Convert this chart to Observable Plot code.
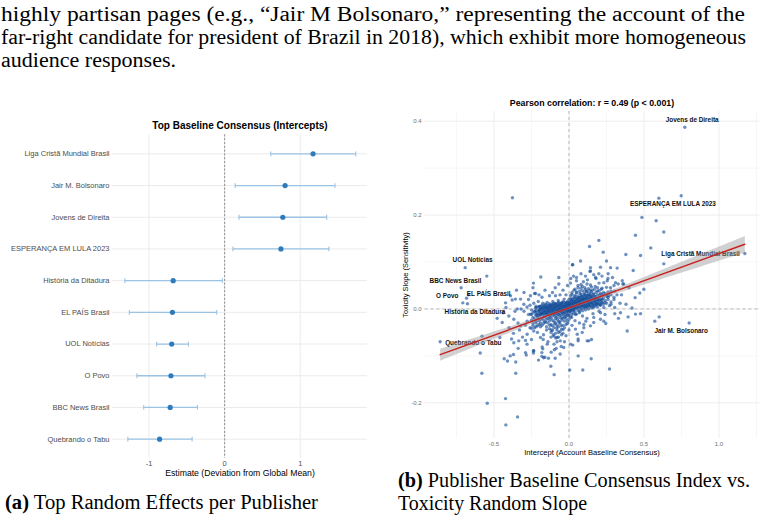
<!DOCTYPE html>
<html><head><meta charset="utf-8">
<script src="https://cdn.jsdelivr.net/npm/d3@7"></script>
<script src="https://cdn.jsdelivr.net/npm/@observablehq/plot@0.6"></script>
<style>
html,body{margin:0;padding:0;background:#fff}
body{width:766px;height:520px;overflow:hidden;position:relative}
.abs{position:absolute}
</style></head><body>
<div id="left" class="abs" style="left:0;top:128px"></div>
<div id="right" class="abs" style="left:390px;top:96px"></div>
<svg id="txt" width="766" height="520" style="position:absolute;left:0;top:0;z-index:2;pointer-events:none">
<g font-family="'Liberation Serif', 'Times New Roman', serif" font-size="20" fill="#000">
<text x="1" y="21" textLength="744" lengthAdjust="spacingAndGlyphs">highly partisan pages (e.g., “Jair M Bolsonaro,” representing the account of the</text>
<text x="1" y="44" textLength="745" lengthAdjust="spacingAndGlyphs">far-right candidate for president of Brazil in 2018), which exhibit more homogeneous</text>
<text x="1" y="67" textLength="175" lengthAdjust="spacingAndGlyphs">audience responses.</text>
<text x="5" y="509" textLength="313" lengthAdjust="spacingAndGlyphs"><tspan font-weight="bold">(a)</tspan> Top Random Effects per Publisher</text>
<text x="398" y="487" textLength="352" lengthAdjust="spacingAndGlyphs"><tspan font-weight="bold">(b)</tspan> Publisher Baseline Consensus Index vs.</text>
<text x="398" y="510" textLength="189" lengthAdjust="spacingAndGlyphs">Toxicity Random Slope</text>
</g>
<g font-family="'Liberation Sans', Arial, sans-serif" fill="#000" text-anchor="middle" dominant-baseline="central">
<text x="240" y="125" font-size="10" font-weight="bold">Top Baseline Consensus (Intercepts)</text>
<text x="240" y="473" font-size="8.7">Estimate (Deviation from Global Mean)</text>
<text x="592" y="103" font-size="8.8" font-weight="bold">Pearson correlation: r = 0.49 (p &lt; 0.001)</text>
<text x="592" y="452.5" font-size="7.6">Intercept (Account Baseline Consensus)</text>
<text x="0" y="0" font-size="7.4" transform="translate(405,275) rotate(-90)">Toxicity Slope (Sensitivity)</text>
</g>
</svg>
<script>
// ---------- (a) forest plot data ----------
const publishers = ["Liga Cristã Mundial Brasil","Jair M. Bolsonaro","Jovens de Direita","ESPERANÇA EM LULA 2023","História da Ditadura","EL PAÍS Brasil","UOL Notícias","O Povo","BBC News Brasil","Quebrando o Tabu"];
const estimates = [1.17, 0.80, 0.77, 0.745, -0.68, -0.69, -0.70, -0.71, -0.72, -0.86];
const ciLow  = [0.61, 0.14, 0.19, 0.11, -1.32, -1.26, -0.90, -1.16, -1.07, -1.28];
const ciHigh = [1.735, 1.46, 1.35, 1.38, -0.03, -0.105, -0.48, -0.26, -0.36, -0.43];
const forestTicks = [-1, 0, 1];

// ---------- (b) scatter data ----------
const labeledNames = ["Jovens de Direita","ESPERANÇA EM LULA 2023","Liga Cristã Mundial Brasil","Jair M. Bolsonaro","UOL Notícias","BBC News Brasil","EL PAÍS Brasil","O Povo","História da Ditadura","Quebrando o Tabu"];
const labeledIntercept = [0.772, 0.748, 1.172, 0.801, -0.692, -0.719, -0.670, -0.708, -0.677, -0.859];
const labeledSlope = [0.387, 0.241, 0.118, -0.030, 0.088, 0.045, 0.030, 0.013, 0.011, -0.070];
const labelAnchorX = [0.821, 0.693, 0.877, 0.748, -0.643, -0.757, -0.535, -0.812, -0.627, -0.638];
const labelAnchorY = [0.4026, 0.2244, 0.117, -0.0464, 0.104, 0.0598, 0.0317, 0.0287, -0.006, -0.0719];

const otherPublishers = [
[-0.377,0.237],[0.137,0.133],[0.599,0.236],[0.486,0.195],[0.581,0.188],[0.632,0.164],[0.443,0.157],[0.199,0.146],[0.545,0.130],
[0.228,0.121],[0.379,0.116],[0.477,0.114],[0.632,0.096],[0.023,0.094],[0.077,0.102],[0.143,0.088],[0.21,0.089],[0.277,0.088],
[0.321,0.087],[0.428,0.082],[0.499,0.042],[0.472,0.034],[0.441,0.024],[0.477,-0.010],[0.443,-0.011],[0.394,-0.017],[0.572,-0.026],
[0.601,-0.017],[0.388,-0.047],[0.245,-0.031],[0.21,-0.022],[0.165,-0.029],[0.112,-0.026],[0.088,-0.050],[0.061,-0.064],[0.121,-0.068],
[0.15,-0.065],[0.043,-0.043],[0.01,-0.075],[0.305,-0.010],[0.31,0.056],[0.355,0.060],[0.365,0.053],[0.277,0.045],[0.255,0.060],
[0.177,0.067],[0.165,0.073],[0.199,0.075],[0.232,0.056],[0.221,0.031],[0.265,0.028],[0.21,0.017],[0.232,0.003],[0.305,0.003],
[0.21,-0.008],[0.165,-0.018],[0.143,-0.036],[0.012,0.065],[0.05,0.067],[0.25,0.102],[0.143,0.081],[0.29,0.067],[0.328,0.053],
[0.359,0.053],[0.261,0.075],[0.305,0.038],[0.255,0.028],
[-0.683,0.023],[-0.548,0.070],[-0.592,-0.094],[-0.581,-0.137],[-0.58,-0.058],
[-0.545,-0.201],[-0.423,-0.191],[-0.343,-0.230],[-0.421,-0.247],[-0.355,-0.137],[-0.432,-0.106],[-0.41,-0.111],[-0.392,-0.100],
[-0.37,-0.097],[-0.355,-0.113],[-0.339,-0.084],[-0.285,-0.098],[-0.237,-0.089],[-0.237,-0.094],[-0.203,-0.109],[-0.179,-0.081],
[-0.181,-0.093],[-0.181,-0.101],[-0.17,-0.104],[-0.137,-0.105],[-0.119,-0.092],[-0.097,-0.087],[-0.085,-0.084],[-0.059,-0.096],
[-0.052,-0.080],[-0.092,-0.105],[-0.121,-0.122],[-0.099,-0.140],[0.005,-0.130],[0.092,-0.130],[0.148,-0.106],[0.27,-0.128],
[-0.188,0.068],[-0.237,0.055],[-0.092,0.045],[0.025,0.094],[-0.383,-0.064],[-0.461,-0.061],[-0.479,-0.020],[-0.345,0.0],
[-0.423,0.013],[-0.357,0.021],[-0.23,0.033],[-0.29,-0.093],[-0.235,-0.089],[-0.29,-0.067],[-0.172,-0.065],[-0.161,-0.103],
[-0.175,-0.085],[0.025,-0.077],[0.061,-0.068],[0.061,-0.100],[0.132,-0.068],[0.099,-0.033],[0.232,-0.026],[0.343,-0.008],
[-0.068,0.067],[-0.068,0.053],[-0.257,0.028],[-0.223,0.033],[-0.379,0.019],[-0.323,0.021],[-0.301,0.010],[-0.445,-0.029],
[-0.401,-0.015],[-0.368,-0.022],[-0.323,-0.036],[-0.279,-0.026],[-0.257,-0.011],[-0.235,-0.047],[-0.279,-0.054],[-0.19,-0.061],
[-0.335,-0.068],[-0.368,-0.072],[-0.145,-0.075],[-0.035,-0.082],[-0.079,-0.061],[0.055,-0.054],[0.099,-0.040],[-0.201,-0.004],
[-0.30,-0.005],[-0.28,0.004],[-0.27,-0.012],[-0.26,0.008],[-0.25,-0.002],[-0.24,-0.018],[-0.235,0.012],[-0.225,-0.006],[-0.22,0.002],
[-0.21,-0.014],[-0.205,0.016],[-0.2,-0.004],[-0.195,0.006],[-0.19,-0.022],[-0.185,-0.01],[-0.18,0.001],[-0.175,0.012],[-0.17,-0.016],
[-0.165,-0.004],[-0.16,0.005],[-0.155,-0.028],[-0.15,-0.011],[-0.148,0.002],[-0.145,0.014],[-0.14,-0.02],[-0.135,-0.006],[-0.13,0.004],
[-0.128,-0.035],[-0.125,-0.014],[-0.12,0.009],[-0.118,-0.045],[-0.115,-0.002],[-0.11,-0.024],[-0.108,0.016],[-0.105,-0.055],[-0.1,-0.008],
[-0.098,0.003],[-0.095,-0.032],[-0.092,-0.016],[-0.09,0.011],[-0.088,-0.062],[-0.085,-0.004],[-0.082,-0.04],[-0.08,0.006],[-0.078,-0.022],
[-0.075,-0.011],[-0.072,0.018],[-0.07,-0.05],[-0.068,-0.003],[-0.065,-0.028],[-0.062,0.008],[-0.06,-0.014],[-0.058,-0.068],[-0.055,0.001],
[-0.052,-0.036],[-0.05,-0.007],[-0.048,0.013],[-0.045,-0.019],[-0.042,-0.003],[-0.04,-0.044],[-0.038,0.006],[-0.035,-0.012],[-0.032,0.021],
[-0.03,-0.026],[-0.028,-0.001],[-0.025,0.01],[-0.022,-0.016],[-0.02,-0.057],[-0.018,0.003],[-0.015,-0.008],[-0.012,0.015],[-0.01,-0.031],
[-0.008,-0.002],[-0.005,0.007],[-0.002,-0.014],[0.0,0.002],
[0.005,0.012],[0.008,-0.006],[0.012,0.022],[0.015,0.004],[0.018,-0.018],[0.02,0.031],[0.024,0.009],[0.027,-0.003],[0.03,0.017],
[0.033,0.04],[0.036,0.002],[0.04,0.026],[0.043,-0.012],[0.046,0.012],[0.05,0.034],[0.053,0.019],[0.056,0.005],[0.06,0.045],
[0.063,0.024],[0.066,0.011],[0.07,-0.005],[0.073,0.033],[0.076,0.018],[0.08,0.052],[0.083,0.027],[0.086,0.008],[0.09,0.039],
[0.093,0.021],[0.096,0.058],[0.1,0.012],[0.103,0.031],[0.106,0.045],[0.11,0.004],[0.113,0.025],[0.116,0.037],[0.12,0.016],
[0.123,0.062],[0.126,0.029],[0.13,0.043],[0.133,0.008],[0.136,0.022],[0.14,0.034],[0.143,0.051],[0.146,0.015],[0.15,0.027],
[0.155,0.04],[0.16,0.003],[0.165,0.032],[0.17,0.019],[0.175,0.048],[0.18,0.026],[0.185,0.011],[0.19,0.038],[0.195,0.021],
[0.2,0.055],[0.205,0.03],[0.21,0.009],[0.215,0.042],[0.22,0.02],[0.23,0.035],[0.24,0.014],[0.25,0.046],[0.26,0.025],
[0.27,0.007],[0.28,0.038],[0.3,0.02],[0.32,0.03],[0.34,0.012],
[-0.44,-0.008],[-0.42,0.003],[-0.4,-0.04],[-0.39,0.028],[-0.37,-0.052],[-0.36,-0.005],[-0.35,0.04],[-0.34,-0.03],[-0.33,-0.045],
[-0.32,0.0],[-0.31,-0.06],[-0.3,0.035],[-0.29,-0.035],[-0.28,-0.075],[-0.27,0.02],[-0.26,-0.04],[-0.25,-0.065],[-0.24,0.045],
[-0.22,-0.03],[-0.21,-0.05],[-0.2,0.03],[-0.19,-0.038],[-0.18,0.025],[-0.17,-0.055],[-0.16,0.04],[-0.15,-0.045],[-0.14,-0.07],
[-0.13,0.028],[-0.12,-0.06],[-0.11,0.035],[-0.1,-0.075],[-0.09,0.028],[-0.08,-0.07],[-0.06,0.03],[-0.05,-0.055],[-0.04,0.04],
[-0.03,-0.07],[-0.02,0.03],[-0.01,0.05],[0.0,-0.045],[0.01,0.055],[0.02,-0.035],[0.03,0.07],[0.04,-0.025],[0.05,0.06],
[0.07,-0.03],[0.08,0.075],[0.09,-0.015],[0.11,0.07],[0.12,-0.02],[0.14,0.08],[0.16,-0.01],[0.18,0.065],[0.2,-0.005],
[0.22,0.07],[0.24,-0.012],[0.26,0.065],[0.28,0.01],[0.3,0.05],[0.33,-0.02],[0.35,0.03],[0.38,0.01],[0.4,0.045],[0.42,0.002]
];
// dense core of the cloud: [intercept, [slopes at that intercept]]
const denseCore = [
[-0.25,[-0.041,-0.024,-0.012]],[-0.24,[-0.035,-0.03,-0.008]],[-0.23,[-0.04,-0.021,-0.005]],[-0.22,[-0.038,-0.026,-0.014,0.006]],
[-0.21,[-0.036,-0.019,-0.009]],[-0.20,[-0.033,-0.025,-0.015,0.004]],[-0.19,[-0.03,-0.012,0.0]],[-0.18,[-0.035,-0.02,-0.007,0.008]],
[-0.17,[-0.031,-0.024,-0.01,0.003]],[-0.16,[-0.028,-0.017,-0.005,0.01]],[-0.15,[-0.038,-0.022,-0.008,0.002]],[-0.14,[-0.03,-0.013,-0.004,0.007]],
[-0.13,[-0.042,-0.025,-0.018,-0.001,0.011]],[-0.12,[-0.05,-0.033,-0.02,-0.009,0.004]],[-0.11,[-0.046,-0.036,-0.015,-0.006,0.008]],
[-0.10,[-0.058,-0.04,-0.027,-0.012,0.0,0.012]],[-0.09,[-0.052,-0.03,-0.021,-0.01,0.005]],[-0.08,[-0.045,-0.034,-0.017,-0.004,0.009]],
[-0.07,[-0.06,-0.038,-0.026,-0.012,0.001,0.014]],[-0.06,[-0.048,-0.031,-0.019,-0.006,0.007]],[-0.05,[-0.043,-0.024,-0.013,0.0,0.011]],
[-0.04,[-0.052,-0.035,-0.02,-0.009,0.004,0.016]],[-0.03,[-0.04,-0.017,-0.006,0.006]],[-0.02,[-0.033,-0.021,-0.011,0.002,0.013]],
[-0.01,[-0.026,-0.014,-0.004,0.008]],[0.00,[-0.022,-0.01,0.0,0.01,0.02]],[0.01,[-0.017,-0.005,0.006,0.015,0.028]],
[0.02,[-0.012,-0.001,0.01,0.019,0.035]],[0.03,[-0.009,0.003,0.012,0.024]],[0.04,[-0.006,0.004,0.016,0.029,0.042]],
[0.05,[-0.011,0.002,0.013,0.022,0.036]],[0.06,[-0.003,0.008,0.017,0.027,0.05]],[0.07,[-0.008,0.004,0.015,0.024,0.038]],
[0.08,[0.0,0.011,0.02,0.031,0.044]],[0.09,[-0.004,0.007,0.018,0.027,0.048]],[0.10,[0.002,0.013,0.023,0.034]],
[0.11,[-0.002,0.009,0.019,0.03,0.041]],[0.12,[0.004,0.014,0.025,0.037,0.053]],[0.13,[0.0,0.011,0.021,0.032]],
[0.14,[0.006,0.017,0.028,0.04]],[0.15,[0.002,0.013,0.024,0.036,0.047]],[0.16,[0.009,0.02,0.031]],[0.17,[0.005,0.016,0.027,0.042]],
[0.18,[0.01,0.022,0.035]],[0.19,[0.004,0.018,0.03,0.045]],[0.20,[0.012,0.025,0.039]],[0.21,[0.008,0.021,0.033]],
[0.22,[0.014,0.028,0.044]],[0.23,[0.01,0.024]],[0.24,[0.018,0.033]],[0.25,[0.012,0.027]],[0.26,[0.02,0.036]],[0.28,[0.015,0.03]],[0.30,[0.025]]
];
// darkest, tightly packed band at the centre of the cloud
const darkCore = [
[-0.22,[-0.012,-0.004,0.003]],[-0.20,[-0.01,-0.002,0.005]],[-0.19,[-0.013,-0.006,0.002]],[-0.18,[-0.009,-0.001,0.006]],
[-0.17,[-0.011,-0.004,0.003]],[-0.16,[-0.008,0.0,0.007]],[-0.15,[-0.012,-0.005,0.002,0.009]],[-0.14,[-0.009,-0.002,0.004]],
[-0.13,[-0.011,-0.004,0.002,0.008]],[-0.12,[-0.007,0.0,0.006]],[-0.11,[-0.01,-0.003,0.003,0.01]],[-0.10,[-0.006,0.001,0.007]],
[-0.09,[-0.009,-0.002,0.004,0.011]],[-0.08,[-0.005,0.002,0.008]],[-0.07,[-0.008,-0.001,0.005,0.012]],[-0.06,[-0.004,0.003,0.009]],
[-0.05,[-0.007,0.0,0.006,0.013]],[-0.04,[-0.003,0.004,0.01]],[-0.03,[-0.006,0.001,0.007,0.014]],[-0.02,[-0.002,0.005,0.011]],
[-0.01,[-0.005,0.002,0.008,0.015]],[0.00,[-0.001,0.006,0.012]],[0.01,[-0.004,0.003,0.009,0.016]],[0.02,[0.0,0.007,0.013,0.02]],
[0.03,[-0.003,0.004,0.01,0.017]],[0.04,[0.001,0.008,0.014,0.022]],[0.05,[0.005,0.011,0.018]],[0.06,[0.002,0.009,0.015,0.023]],
[0.07,[0.006,0.012,0.019]],[0.08,[0.003,0.01,0.017,0.025]],[0.09,[0.007,0.013,0.02]],[0.10,[0.004,0.011,0.018,0.026]],
[0.11,[0.008,0.015,0.022]],[0.12,[0.005,0.012,0.019,0.028]],[0.13,[0.009,0.016,0.023]],[0.14,[0.006,0.013,0.02,0.029]],
[0.15,[0.01,0.017,0.024]],[0.16,[0.007,0.014,0.021]],[0.17,[0.011,0.018,0.026]],[0.18,[0.008,0.015,0.022]],
[0.19,[0.012,0.02]],[0.20,[0.01,0.018]],[0.22,[0.013,0.021]]
];
const scatterMajorX = [-0.5, 0, 0.5, 1.0];
const scatterMinorX = [-0.75, -0.25, 0.25, 0.75, 1.25];
const scatterMajorY = [-0.2, 0, 0.2, 0.4];
const scatterMinorY = [-0.1, 0.1, 0.3];

// ---------- build tables ----------
const forest = publishers.map((name, i) => ({name, est: estimates[i], lo: ciLow[i], hi: ciHigh[i]}));
const labeled = labeledNames.map((name, i) => ({name, x: labeledIntercept[i], y: labeledSlope[i], lx: labelAnchorX[i], ly: labelAnchorY[i]}));
const points = labeled.map(d => ({x: d.x, y: d.y}))
  .concat(otherPublishers.map(([x, y]) => ({x, y})))
  .concat(denseCore.flatMap(([x, ys]) => ys.map(y => ({x, y}))))
  .concat(darkCore.flatMap(([x, ys]) => ys.map(y => ({x, y}))));

const grid = "#ebebeb";
const barColor = "#9dc3e4";
// vertical cap symbol for error-bar ends
const capSymbol = {draw(ctx, size) { const h = Math.sqrt(size / Math.PI); ctx.moveTo(0, -h); ctx.lineTo(0, h); }};

const left = Plot.plot({
  width: 380, height: 354,
  marginLeft: 112, marginRight: 13, marginTop: 6.3, marginBottom: 24.3,
  style: {fontFamily: "'Liberation Sans', Arial, sans-serif", fontSize: "7.5px", color: "#4d4d4d", background: "transparent", overflow: "visible"},
  x: {domain: [-1.483, 1.89], ticks: forestTicks, tickSize: 0, tickPadding: 2, label: null, tickFormat: d => String(d)},
  y: {type: "point", domain: publishers, padding: 0.6, round: false, tickSize: 0, tickPadding: 3, label: null},
  marks: [
    Plot.ruleY(publishers, {stroke: grid, strokeWidth: 1}),
    Plot.ruleX(forestTicks, {stroke: grid, strokeWidth: 1}),
    Plot.ruleX([0], {stroke: "#9a9a9a", strokeWidth: 1.1, strokeDasharray: "2.2,1.6"}),
    Plot.link(forest, {x1: "lo", x2: "hi", y1: "name", y2: "name", stroke: barColor, strokeWidth: 1.3}),
    Plot.dot(forest, {x: "lo", y: "name", r: 2.4, symbol: capSymbol, stroke: barColor, fill: "none", strokeWidth: 1.1}),
    Plot.dot(forest, {x: "hi", y: "name", r: 2.4, symbol: capSymbol, stroke: barColor, fill: "none", strokeWidth: 1.1}),
    Plot.dot(forest, {x: "est", y: "name", r: 2.6, fill: "#2e7bbb", stroke: "none"})
  ]
});
document.getElementById("left").appendChild(left);

const right = Plot.plot({
  width: 376, height: 366,
  marginLeft: 34.5, marginRight: 6.7, marginTop: 15, marginBottom: 24,
  style: {fontFamily: "'Liberation Sans', Arial, sans-serif", fontSize: "6px", color: "#6e6e6e", background: "transparent", overflow: "visible"},
  x: {domain: [-0.96, 1.272], ticks: scatterMajorX, tickSize: 0, tickPadding: 3, label: null, tickFormat: d => d.toFixed(1)},
  y: {domain: [-0.276, 0.4206], ticks: scatterMajorY, tickSize: 0, tickPadding: 3.5, label: null, tickFormat: d => d.toFixed(1)},
  marks: [
    Plot.ruleX(scatterMinorX, {stroke: "#f3f3f3", strokeWidth: 0.7}),
    Plot.ruleY(scatterMinorY, {stroke: "#f3f3f3", strokeWidth: 0.7}),
    Plot.ruleX(scatterMajorX, {stroke: grid, strokeWidth: 0.9}),
    Plot.ruleY(scatterMajorY, {stroke: grid, strokeWidth: 0.9}),
    Plot.ruleX([0], {stroke: "#ababab", strokeWidth: 0.8, strokeDasharray: "3,3"}),
    Plot.ruleY([0], {stroke: "#ababab", strokeWidth: 0.8, strokeDasharray: "3,3"}),
    Plot.dot(points, {x: "x", y: "y", r: 1.7, fill: "#154e9a", fillOpacity: 0.62, stroke: "none"}),
    Plot.text(labeled, {x: "lx", y: "ly", text: "name", fontSize: 6.4, fontWeight: "bold", fill: "#111"}),
    Plot.linearRegressionY(points, {x: "x", y: "y", stroke: "#c8201f", strokeWidth: 1.4, fill: "#9a9a9a", fillOpacity: 0.45})
  ]
});
document.getElementById("right").appendChild(right);
</script>
</body></html>
